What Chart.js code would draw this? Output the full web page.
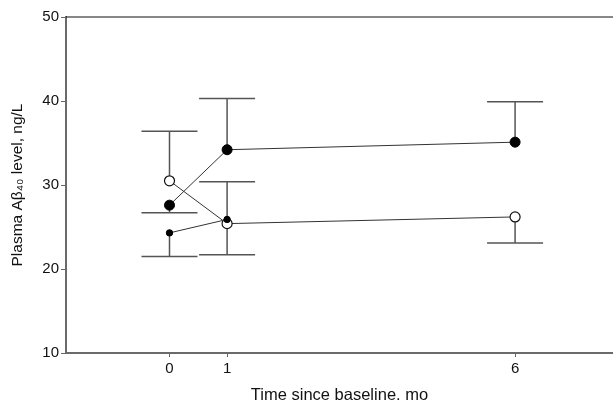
<!DOCTYPE html>
<html>
<head>
<meta charset="utf-8">
<script src="https://cdn.jsdelivr.net/npm/chart.js@4/dist/chart.umd.min.js"></script>
<style>
html,body{margin:0;padding:0;background:#fff;}
#wrap{width:613px;height:402px;}
</style>
</head>
<body>
<div id="wrap"><canvas id="c" width="613" height="402"></canvas></div>
<script>
// Data
const months = [0, 1, 6];
const xTickValues = [0, 1, 6];
const yTickValues = [10, 20, 30, 40, 50];

const openMeans = [30.5, 25.4, 26.2];
const openBarEnds = [36.4, 21.7, 23.1];

const largeMeans = [27.6, 34.2, 35.1];
const largeBarEnds = [26.7, 40.3, 39.9];

const smallMonths = [0, 1];
const smallMeans = [24.3, 25.9];
const smallBarEnds = [21.5, 30.4];

const toPts = (xs, ys) => xs.map((x, i) => ({x: x, y: ys[i]}));

const errorBars = [
  {xs: months, means: openMeans, ends: openBarEnds},
  {xs: months, means: largeMeans, ends: largeBarEnds},
  {xs: smallMonths, means: smallMeans, ends: smallBarEnds}
];

const errorBarPlugin = {
  id: 'errorBars',
  beforeDatasetsDraw(chart) {
    const ctx = chart.ctx, xs = chart.scales.x, ys = chart.scales.y;
    ctx.save();
    ctx.strokeStyle = '#555';
    ctx.lineWidth = 1.5;
    errorBars.forEach(s => {
      s.xs.forEach((xv, i) => {
        const px = xs.getPixelForValue(xv);
        const py0 = ys.getPixelForValue(s.means[i]);
        const py1 = ys.getPixelForValue(s.ends[i]);
        ctx.beginPath();
        ctx.moveTo(px, py0); ctx.lineTo(px, py1);
        ctx.moveTo(px - 28, py1); ctx.lineTo(px + 28, py1);
        ctx.stroke();
      });
    });
    ctx.restore();
  },
  afterDraw(chart) {
    const ctx = chart.ctx, a = chart.chartArea;
    ctx.save();
    ctx.strokeStyle = '#111';
    ctx.lineWidth = 1.2;
    ctx.beginPath();
    ctx.moveTo(a.left, a.top); ctx.lineTo(chart.width, a.top);
    ctx.stroke();
    ctx.restore();
  }
};

const font = 'Liberation Sans, Arial, Helvetica, sans-serif';

new Chart(document.getElementById('c'), {
  type: 'line',
  data: {
    datasets: [
      {
        label: 'open', data: toPts(months, openMeans),
        borderColor: '#333', borderWidth: 1,
        pointRadius: 5, pointBackgroundColor: '#fff', pointBorderColor: '#111', pointBorderWidth: 1.2,
        order: 2
      },
      {
        label: 'large', data: toPts(months, largeMeans),
        borderColor: '#333', borderWidth: 1,
        pointRadius: 5, pointBackgroundColor: '#000', pointBorderColor: '#000', pointBorderWidth: 1,
        order: 1
      },
      {
        label: 'small', data: toPts(smallMonths, smallMeans),
        borderColor: '#333', borderWidth: 1,
        pointRadius: 3.2, pointBackgroundColor: '#000', pointBorderColor: '#000', pointBorderWidth: 1,
        order: 0
      }
    ]
  },
  options: {
    responsive: false,
    animation: false,
    layout: {autoPadding: false, padding: {top: 17, right: 0, left: 0, bottom: 0}},
    plugins: {legend: {display: false}, tooltip: {enabled: false}},
    scales: {
      x: {
        type: 'linear', min: -1.797, max: 7.70,
        afterBuildTicks: s => { s.ticks = xTickValues.map(v => ({value: v})); },
        afterFit: s => { s.height = 49; s.paddingLeft = 0; s.paddingRight = 0; },
        grid: {drawOnChartArea: false, drawTicks: true, tickLength: 4, color: '#666', lineWidth: 1},
        border: {display: true, color: '#6a6a6a', width: 2},
        ticks: {color: '#111', font: {family: font, size: 15}, padding: 3, maxRotation: 0},
        title: {display: true, text: 'Time since baseline. mo', color: '#111', font: {family: font, size: 16.5, lineHeight: 1}, padding: {top: 4, bottom: -2}}
      },
      y: {
        type: 'linear', min: 10, max: 50,
        afterBuildTicks: s => { s.ticks = yTickValues.map(v => ({value: v})); },
        afterFit: s => { s.width = 66; s.paddingTop = 0; s.paddingBottom = 0; },
        grid: {drawOnChartArea: false, drawTicks: true, tickLength: 5, color: '#666', lineWidth: 1},
        border: {display: true, color: '#6a6a6a', width: 2},
        ticks: {color: '#111', font: {family: font, size: 15}, padding: 2},
        title: {display: true, text: 'Plasma Aβ₄₀ level, ng/L', color: '#111', font: {family: font, size: 15.5}, padding: {top: 8, bottom: 0}}
      }
    }
  },
  plugins: [errorBarPlugin]
});
</script>
</body>
</html>
